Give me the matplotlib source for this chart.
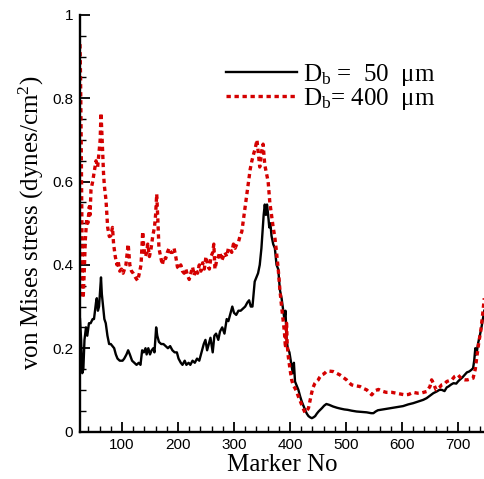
import matplotlib
matplotlib.use("Agg")
import matplotlib.pyplot as plt
from matplotlib.ticker import MultipleLocator, FuncFormatter

# -------------------------
# Data
# -------------------------
marker_50 = [25, 27, 29, 31, 33, 35.7, 38, 41, 44, 47.6, 50, 53.6, 55, 57, 59, 62.5, 64, 65.5,
             68.5, 71, 74, 77, 80, 83, 86, 89, 92, 96, 101, 104, 108, 111, 114, 118, 122, 126,
             130, 133, 136, 139, 142, 144, 147, 150, 153, 156, 158, 161, 163, 166, 170, 174,
             178, 182, 186, 190, 194, 198, 201, 205, 208, 212, 215, 219, 222, 226, 230, 234,
             238, 242, 246, 249, 252, 255, 258, 262, 265, 268, 272, 275, 279, 283, 287, 290,
             293, 297, 300, 304, 308, 312, 316, 320, 324, 327, 330, 333, 337, 340, 343, 346,
             349, 351, 353, 355, 357, 359, 361, 363, 365, 367, 370, 373, 376, 379, 382, 385,
             388, 390, 392, 394, 396, 399, 402, 405, 407, 409, 412, 415, 418, 421, 424, 427,
             430, 433, 436, 439, 442, 445, 448, 451, 454, 457, 461, 465, 470, 477, 484, 490,
             497, 503, 510, 519, 528, 537, 545, 549, 553, 557, 566, 575, 584, 593, 602, 611,
             620, 629, 638, 644, 650, 656, 662, 667, 671, 676, 680, 683, 688, 692, 697, 700,
             703, 708, 712, 716, 720, 724, 727, 729, 731, 733, 736, 739, 742, 745, 747]
stress_50 = [0.27, 0.22, 0.14, 0.15, 0.22, 0.25, 0.23, 0.26, 0.26, 0.27, 0.27, 0.31, 0.32, 0.29,
             0.30, 0.37, 0.33, 0.31, 0.27, 0.26, 0.23, 0.21, 0.21, 0.205, 0.20, 0.185, 0.175,
             0.17, 0.17, 0.175, 0.185, 0.195, 0.185, 0.17, 0.165, 0.16, 0.165, 0.16, 0.195,
             0.19, 0.20, 0.185, 0.20, 0.185, 0.195, 0.20, 0.19, 0.25, 0.23, 0.215, 0.21, 0.21,
             0.205, 0.20, 0.205, 0.195, 0.19, 0.19, 0.175, 0.165, 0.16, 0.17, 0.16, 0.165, 0.16,
             0.17, 0.165, 0.175, 0.17, 0.19, 0.21, 0.22, 0.195, 0.21, 0.225, 0.19, 0.23, 0.235,
             0.22, 0.24, 0.25, 0.235, 0.27, 0.265, 0.28, 0.30, 0.285, 0.28, 0.29, 0.29, 0.295,
             0.30, 0.31, 0.315, 0.30, 0.30, 0.36, 0.37, 0.38, 0.40, 0.44, 0.48, 0.52, 0.545,
             0.52, 0.545, 0.52, 0.49, 0.50, 0.47, 0.45, 0.44, 0.40, 0.39, 0.34, 0.32, 0.29,
             0.27, 0.29, 0.22, 0.20, 0.19, 0.165, 0.14, 0.165, 0.12, 0.11, 0.10, 0.085, 0.072,
             0.062, 0.052, 0.043, 0.037, 0.034, 0.032, 0.034, 0.037, 0.043, 0.048, 0.052, 0.056,
             0.062, 0.066, 0.064, 0.060, 0.057, 0.055, 0.053, 0.052, 0.050, 0.048, 0.047, 0.046,
             0.044, 0.044, 0.048, 0.051, 0.053, 0.055, 0.057, 0.059, 0.061, 0.065, 0.068, 0.072,
             0.076, 0.080, 0.086, 0.092, 0.096, 0.10, 0.10, 0.097, 0.106, 0.108, 0.113, 0.116,
             0.115, 0.12, 0.124, 0.13, 0.136, 0.142, 0.144, 0.148, 0.152, 0.17, 0.20, 0.185,
             0.212, 0.23, 0.25, 0.275, 0.29]

marker_400 = [25, 26, 27, 28, 29, 30, 31, 32.5, 34.5, 37, 39, 41.7, 43, 44.6, 47.6, 50, 53.6,
              56.5, 59.5, 61, 62.5, 64, 65.5, 67, 68.5, 71.4, 74.4, 77.4, 80, 83, 85, 88, 91,
              93, 96, 99, 102, 107, 111, 114, 117, 120, 124, 128, 131, 134, 137, 139, 142, 144,
              146, 149, 152, 155, 158, 160, 162, 164, 166, 169, 172, 175, 178, 181, 184, 187,
              190, 193, 196, 199, 202, 205, 208, 211, 214, 217, 220, 223, 226, 229, 232, 235,
              238, 241, 244, 247, 250, 253, 256, 259, 262, 264, 266, 269, 272, 275, 278, 281,
              284, 287, 290, 293, 296, 299, 302, 305, 308, 311, 314, 317, 320, 323, 326, 329,
              332, 335, 338, 341, 344, 346, 349, 352, 355, 358, 361, 364, 367, 370, 373, 376,
              379, 382, 385, 388, 390, 392, 394, 395, 397, 400, 403, 406, 409, 412, 415, 418,
              421, 424, 427, 430, 433, 436, 438.6, 441, 444.6, 447, 450.5, 453, 456.5, 460, 462,
              465, 470, 477, 483, 489, 495, 501, 505, 510, 516, 525, 530, 537, 546, 552, 558,
              564, 572, 582, 590, 597, 605, 612, 620, 628, 636, 644, 650, 653, 656, 661, 667,
              671, 676, 680, 684, 689, 694, 700, 704, 708, 712, 717, 722, 727, 731, 733, 737,
              741, 744, 747]
stress_400 = [0.93, 0.85, 0.72, 0.55, 0.40, 0.32, 0.33, 0.38, 0.46, 0.51, 0.50, 0.54, 0.52,
              0.58, 0.60, 0.62, 0.65, 0.635, 0.68, 0.70, 0.765, 0.72, 0.67, 0.62, 0.59, 0.556,
              0.49, 0.468, 0.47, 0.49, 0.45, 0.42, 0.40, 0.41, 0.385, 0.39, 0.38, 0.40, 0.45,
              0.40, 0.385, 0.38, 0.37, 0.362, 0.38, 0.40, 0.48, 0.44, 0.42, 0.43, 0.45, 0.42,
              0.44, 0.47, 0.49, 0.52, 0.57, 0.51, 0.44, 0.42, 0.40, 0.42, 0.415, 0.43, 0.44,
              0.43, 0.43, 0.44, 0.42, 0.395, 0.39, 0.40, 0.385, 0.38, 0.39, 0.375, 0.365, 0.38,
              0.395, 0.375, 0.39, 0.38, 0.40, 0.385, 0.405, 0.39, 0.42, 0.40, 0.39, 0.42, 0.43,
              0.45, 0.39, 0.41, 0.42, 0.43, 0.41, 0.42, 0.43, 0.42, 0.44, 0.44, 0.43, 0.45, 0.44,
              0.45, 0.455, 0.47, 0.48, 0.51, 0.54, 0.57, 0.60, 0.63, 0.65, 0.666, 0.68, 0.70,
              0.66, 0.635, 0.67, 0.69, 0.64, 0.62, 0.60, 0.55, 0.52, 0.49, 0.466, 0.43, 0.39,
              0.34, 0.30, 0.265, 0.24, 0.20, 0.26, 0.21, 0.18, 0.15, 0.124, 0.11, 0.104, 0.095,
              0.084, 0.074, 0.064, 0.054, 0.045, 0.05, 0.056, 0.075, 0.092, 0.105, 0.116, 0.12,
              0.124, 0.13, 0.136, 0.138, 0.14, 0.144, 0.145, 0.144, 0.14, 0.136, 0.13, 0.124,
              0.118, 0.112, 0.11, 0.108, 0.104, 0.10, 0.088, 0.098, 0.101, 0.097, 0.094, 0.094,
              0.092, 0.09, 0.088, 0.089, 0.094, 0.092, 0.093, 0.096, 0.108, 0.124, 0.116, 0.10,
              0.106, 0.112, 0.114, 0.12, 0.122, 0.124, 0.132, 0.136, 0.13, 0.125, 0.124, 0.124,
              0.126, 0.128, 0.15, 0.172, 0.212, 0.244, 0.28, 0.32]

labels = ["$\\mathrm{D_b}$ =  50  \u03bcm", "$\\mathrm{D_b}$= 400  \u03bcm"]

# -------------------------
# Style
# -------------------------
SERIF = "Liberation Serif"
SANS = "Liberation Sans"
plt.rcParams["mathtext.fontset"] = "custom"
plt.rcParams["mathtext.rm"] = SERIF
plt.rcParams["mathtext.it"] = SERIF + ":italic"

fig = plt.figure(figsize=(4.84, 4.79), dpi=100)
ax = fig.add_axes([80 / 484, 47.5 / 479, 1 - 80 / 484, 416.5 / 479])

ax.plot(marker_50, stress_50, color="black", lw=1.7, label=labels[0])
ax.plot(marker_400, stress_400, color="#d40000", lw=2.4,
        linestyle=(0, (1.3, 1.1)), label=labels[1])

ax.set_xlim(25, 746.5)
ax.set_ylim(0, 1)

ax.xaxis.set_major_locator(MultipleLocator(100))
ax.xaxis.set_minor_locator(MultipleLocator(20))
ax.yaxis.set_major_locator(MultipleLocator(0.2))
ax.yaxis.set_minor_locator(MultipleLocator(0.05))
ax.yaxis.set_major_formatter(FuncFormatter(lambda v, p: f"{v:g}"))

ax.tick_params(which="both", direction="in", top=False, right=False)
ax.tick_params(which="major", length=7.5, width=1.3, labelsize=11, pad=5)
ax.tick_params(which="minor", length=4, width=1.0)
for lab in ax.get_xticklabels() + ax.get_yticklabels():
    lab.set_fontfamily(SANS)

for side in ["top", "right"]:
    ax.spines[side].set_visible(False)
for side in ["left", "bottom"]:
    ax.spines[side].set_linewidth(1.7)

ax.set_xlabel("Marker No", fontfamily=SERIF, fontsize=18, labelpad=1)
ax.set_ylabel("von Mises stress (dynes/cm$^2$)", fontfamily=SERIF, fontsize=18, labelpad=4)

leg = ax.legend(loc="upper left", bbox_to_anchor=(226 / 484, 1 - 62 / 479),
                bbox_transform=fig.transFigure, frameon=False,
                prop={"family": SERIF, "size": 18}, handlelength=2.85,
                handletextpad=0.22, labelspacing=-0.1, borderpad=0, borderaxespad=0)

fig.savefig("out.png", dpi=100)
